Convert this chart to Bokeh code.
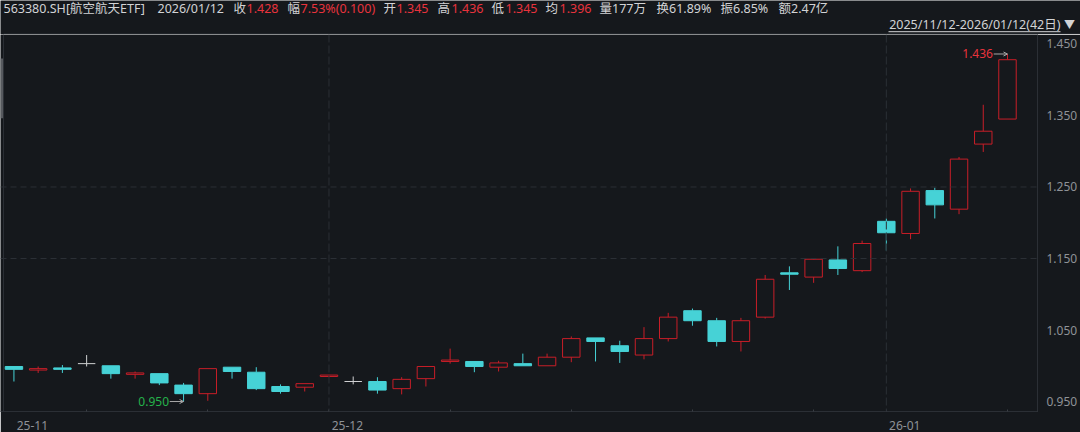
import datetime as dt
import numpy as np
from bokeh.plotting import figure
from bokeh.layouts import column
from bokeh.models import (FixedTicker, Span, Label, Arrow, OpenHead, LinearAxis,
                          Range1d, ColumnDataSource, PrintfTickFormatter, BoxAnnotation)
from bokeh.embed import file_html
from bokeh.resources import INLINE

# ---------------- data ----------------
dates = ["2025/11/12", "2025/11/13", "2025/11/14", "2025/11/17", "2025/11/18", "2025/11/19",
         "2025/11/20", "2025/11/21", "2025/11/24", "2025/11/25", "2025/11/26", "2025/11/27",
         "2025/11/28", "2025/12/01", "2025/12/02", "2025/12/03", "2025/12/04", "2025/12/05",
         "2025/12/08", "2025/12/09", "2025/12/10", "2025/12/11", "2025/12/12", "2025/12/15",
         "2025/12/16", "2025/12/17", "2025/12/18", "2025/12/19", "2025/12/22", "2025/12/23",
         "2025/12/24", "2025/12/25", "2025/12/26", "2025/12/29", "2025/12/30", "2025/12/31",
         "2026/01/05", "2026/01/06", "2026/01/07", "2026/01/08", "2026/01/09", "2026/01/12"]

opens = [0.999, 0.994, 0.997, 1.003, 1.000, 0.988, 0.989, 0.973, 0.961, 0.998, 0.991, 0.971,
         0.970, 0.985, 0.978, 0.978, 0.968, 0.982, 1.006, 1.006, 0.998, 1.003, 1.000, 1.012,
         1.039, 1.028, 1.015, 1.038, 1.077, 1.063, 1.034, 1.068, 1.130, 1.124, 1.148, 1.133,
         1.202, 1.185, 1.245, 1.219, 1.310, 1.345]
highs = [0.999, 0.999, 1.001, 1.015, 1.000, 0.992, 0.989, 0.976, 0.996, 0.998, 0.998, 0.974,
         0.975, 0.987, 0.985, 0.984, 0.984, 0.999, 1.024, 1.006, 1.007, 1.017, 1.017, 1.041,
         1.039, 1.035, 1.054, 1.074, 1.080, 1.067, 1.067, 1.127, 1.139, 1.150, 1.167, 1.175,
         1.206, 1.248, 1.249, 1.292, 1.365, 1.436]
lows = [0.978, 0.990, 0.990, 0.999, 0.982, 0.982, 0.973, 0.950, 0.951, 0.982, 0.966, 0.961,
        0.964, 0.984, 0.974, 0.961, 0.960, 0.971, 1.003, 0.991, 0.992, 1.000, 1.000, 1.005,
        1.006, 1.004, 1.009, 1.034, 1.056, 1.027, 1.020, 1.066, 1.106, 1.116, 1.127, 1.131,
        1.161, 1.177, 1.206, 1.212, 1.299, 1.345]
closes = [0.995, 0.996, 0.995, 1.003, 0.989, 0.990, 0.976, 0.961, 0.996, 0.992, 0.968, 0.964,
          0.975, 0.987, 0.978, 0.966, 0.981, 0.999, 1.008, 0.999, 1.004, 1.000, 1.012, 1.038,
          1.034, 1.020, 1.038, 1.068, 1.063, 1.034, 1.063, 1.121, 1.128, 1.149, 1.136, 1.171,
          1.186, 1.244, 1.225, 1.289, 1.328, 1.428]

code = "563380.SH"
fund_name = "航空航天ETF"
avg_price = 1.396
volume = "177万"
turnover = "61.89%"
amount = "2.47亿"
price_ticks = [0.950, 1.050, 1.150, 1.250, 1.350, 1.450]
grid_levels = [1.150, 1.250]

# ---------------- layout / style ----------------
W, H = 1080, 432
STEP, X_FIRST = 24.35, 13.5          # px per candle, first candle px
PX_UNIT, Y_REF, V_REF = 717.0, 402.0, 0.95


def rx(X):
    return (X - X_FIRST) / STEP


def ry(Y):
    return V_REF + (Y_REF - Y) / PX_UNIT


BG = "#15181c"
LINE = "#2b2f35"
LBL = "#8f9297"
TXT = "#d2d3d5"
RED = "#c81e28"
RED_T = "#e8333c"
CYAN = "#46d2d6"
WHITE = "#cfd0d2"
GREEN = "#25b24b"
ARW = "#a8a8a8"
FONT = "Noto Sans, Noto Sans CJK SC"

HEAD_H = 34            # header strip height
R_EDGE = 1042          # x of price axis line
B_EDGE = 412           # y of date axis line
br = W - R_EDGE
bb = H - B_EDGE
CH = H - HEAD_H

# ---------------- header strip ----------------
ph = figure(width=W, height=HEAD_H, output_backend="svg", toolbar_location=None,
            x_range=Range1d(0, W), y_range=Range1d(HEAD_H, 0),
            x_axis_location=None, y_axis_location=None,
            min_border_left=0, min_border_right=0, min_border_top=0, min_border_bottom=0,
            background_fill_color=BG, border_fill_color=BG, outline_line_color=None)
ph.grid.visible = False
ph.frame_align = False

n = len(dates)
prev = closes[-2]
chg = closes[-1] - prev
pct = chg / prev * 100
amp = (highs[-1] - lows[-1]) / prev * 100
header = [
    (3, f"{code}[{fund_name}]", TXT),
    (157, dates[-1], TXT),
    (233, "收", TXT), (246, f"{closes[-1]:.3f}", RED_T),
    (287, "幅", TXT), (300, f"{pct:.2f}%({chg:.3f})", RED_T),
    (383, "开", TXT), (396, f"{opens[-1]:.3f}", RED_T),
    (437, "高", TXT), (451, f"{highs[-1]:.3f}", RED_T),
    (491, "低", TXT), (505, f"{lows[-1]:.3f}", RED_T),
    (545, "均", TXT), (559, f"{avg_price:.3f}", RED_T),
    (599, f"量{volume}", TXT),
    (656, f"换{turnover}", TXT),
    (720, f"振{amp:.2f}%", TXT),
    (778, f"额{amount}", TXT),
]
for X, t, col in header:
    ph.add_layout(Label(x=X, y=8, text=t, text_align="left", text_baseline="middle",
                        text_color=col, text_font_size="12.5px", text_font=FONT))

rng = f"{dates[0]}-{dates[-1]}({n}日)"
ph.add_layout(Label(x=1060, y=24, text=rng, text_align="right", text_baseline="middle",
                    text_color=TXT, text_font_size="12.5px", text_font=FONT))
ph.segment(x0=[888], y0=[31.2], x1=[1060], y1=[31.2], line_color=TXT, line_width=1)
ph.add_layout(Label(x=1069, y=24, text="▼", text_align="center", text_baseline="middle",
                    text_color=TXT, text_font_size="11px", text_font=FONT))
ph.segment(x0=[3], y0=[HEAD_H - 0.5], x1=[W], y1=[HEAD_H - 0.5],
           line_color=LINE, line_width=1)

# ---------------- chart ----------------
x0, x1 = rx(0), rx(R_EDGE)
y1, y0 = ry(HEAD_H), ry(B_EDGE)

p = figure(width=W, height=CH, output_backend="svg", toolbar_location=None,
           x_range=Range1d(x0, x1), y_range=Range1d(y0, y1),
           x_axis_location=None, y_axis_location=None,
           min_border_left=0, min_border_right=br, min_border_top=0, min_border_bottom=bb,
           background_fill_color=BG, border_fill_color=BG, outline_line_color=None)
p.grid.visible = False
p.frame_align = False

idx = np.arange(n)
o = np.array(opens); c = np.array(closes); hi = np.array(highs); lo = np.array(lows)
top = np.maximum(o, c); bot = np.minimum(o, c)
BW = 0.72

# left border and scroll handle
p.add_layout(Span(location=rx(3), dimension="height", line_color=LINE, line_width=1))
p.add_layout(BoxAnnotation(left=rx(0), right=rx(2.6), top=ry(58), bottom=ry(118),
                           fill_color="#56595e", fill_alpha=1, line_color=None))

# grid / month separators
for lv in grid_levels:
    p.add_layout(Span(location=lv, dimension="width", line_color=LINE, line_width=1,
                      line_dash="6 4"))

dobj = [dt.datetime.strptime(d, "%Y/%m/%d").date() for d in dates]
month_idx = [i for i in range(n) if i == 0 or dobj[i].month != dobj[i - 1].month]
monday_idx = [i for i in range(n) if dobj[i].weekday() == 0]
for i in month_idx[1:]:
    p.add_layout(Span(location=i, dimension="height", line_color=LINE, line_width=1,
                      line_dash="8 3"))

# axes
yaxis = LinearAxis(ticker=FixedTicker(ticks=price_ticks),
                   formatter=PrintfTickFormatter(format="%.3f"),
                   axis_line_color=LINE, major_tick_line_color=None, minor_tick_line_color=None,
                   major_label_text_color=LBL, major_label_text_font_size="12px",
                   major_label_text_font=FONT, major_label_standoff=3)
p.add_layout(yaxis, "right")

LAB_OFF = 0.76   # month labels start just right of the month's first candle
lab_pos = [round(i + LAB_OFF, 2) for i in month_idx]
lab_txt = {pos: f"{dobj[i].year % 100:02d}-{dobj[i].month:02d}" for pos, i in zip(lab_pos, month_idx)}
xaxis = LinearAxis(ticker=FixedTicker(ticks=lab_pos, minor_ticks=monday_idx),
                   major_label_overrides=lab_txt,
                   axis_line_color=LINE, major_tick_line_color=None,
                   minor_tick_line_color="#3a3e44", minor_tick_in=2, minor_tick_out=0,
                   major_label_text_color=LBL, major_label_text_font_size="12px",
                   major_label_text_font=FONT, major_label_standoff=3)
p.add_layout(xaxis, "below")

# candles
up = c > o
dn = c < o
eq = c == o
wick_col = np.where(up, RED, np.where(dn, CYAN, WHITE)).tolist()
p.segment(x0=idx, y0=hi, x1=idx, y1=top, line_color=wick_col, line_width=1)
p.segment(x0=idx, y0=bot, x1=idx, y1=lo, line_color=wick_col, line_width=1)

src_up = ColumnDataSource(dict(x=idx[up], top=top[up], bottom=bot[up]))
src_dn = ColumnDataSource(dict(x=idx[dn], top=top[dn], bottom=bot[dn]))
p.vbar(x="x", top="top", bottom="bottom", width=BW, source=src_up,
       fill_color=None, line_color=RED, line_width=1)
p.vbar(x="x", top="top", bottom="bottom", width=BW, source=src_dn,
       fill_color=CYAN, line_color=CYAN, line_width=1)
p.segment(x0=idx[eq] - BW / 2, y0=o[eq], x1=idx[eq] + BW / 2, y1=o[eq],
          line_color=WHITE, line_width=1)

# high / low markers
hi_i = int(np.argmax(hi)); lo_i = int(np.argmin(lo))
p.add_layout(Label(x=hi_i - 0.6, y=hi[hi_i], text=f"{hi[hi_i]:.3f}", text_align="right",
                   text_baseline="middle", text_color=RED_T, text_font_size="12px", text_font=FONT))
p.add_layout(Arrow(end=OpenHead(size=4, line_color=ARW, line_width=1),
                   x_start=hi_i - 0.57, y_start=hi[hi_i], x_end=hi_i, y_end=hi[hi_i],
                   line_color=ARW, line_width=1))
p.add_layout(Label(x=lo_i - 0.6, y=lo[lo_i], text=f"{lo[lo_i]:.3f}", text_align="right",
                   text_baseline="middle", text_color=GREEN, text_font_size="12px", text_font=FONT))
p.add_layout(Arrow(end=OpenHead(size=4, line_color=ARW, line_width=1),
                   x_start=lo_i - 0.57, y_start=lo[lo_i], x_end=lo_i, y_end=lo[lo_i],
                   line_color=ARW, line_width=1))

layout = column(ph, p, spacing=0)
open("out.html", "w").write(file_html(layout, INLINE))
